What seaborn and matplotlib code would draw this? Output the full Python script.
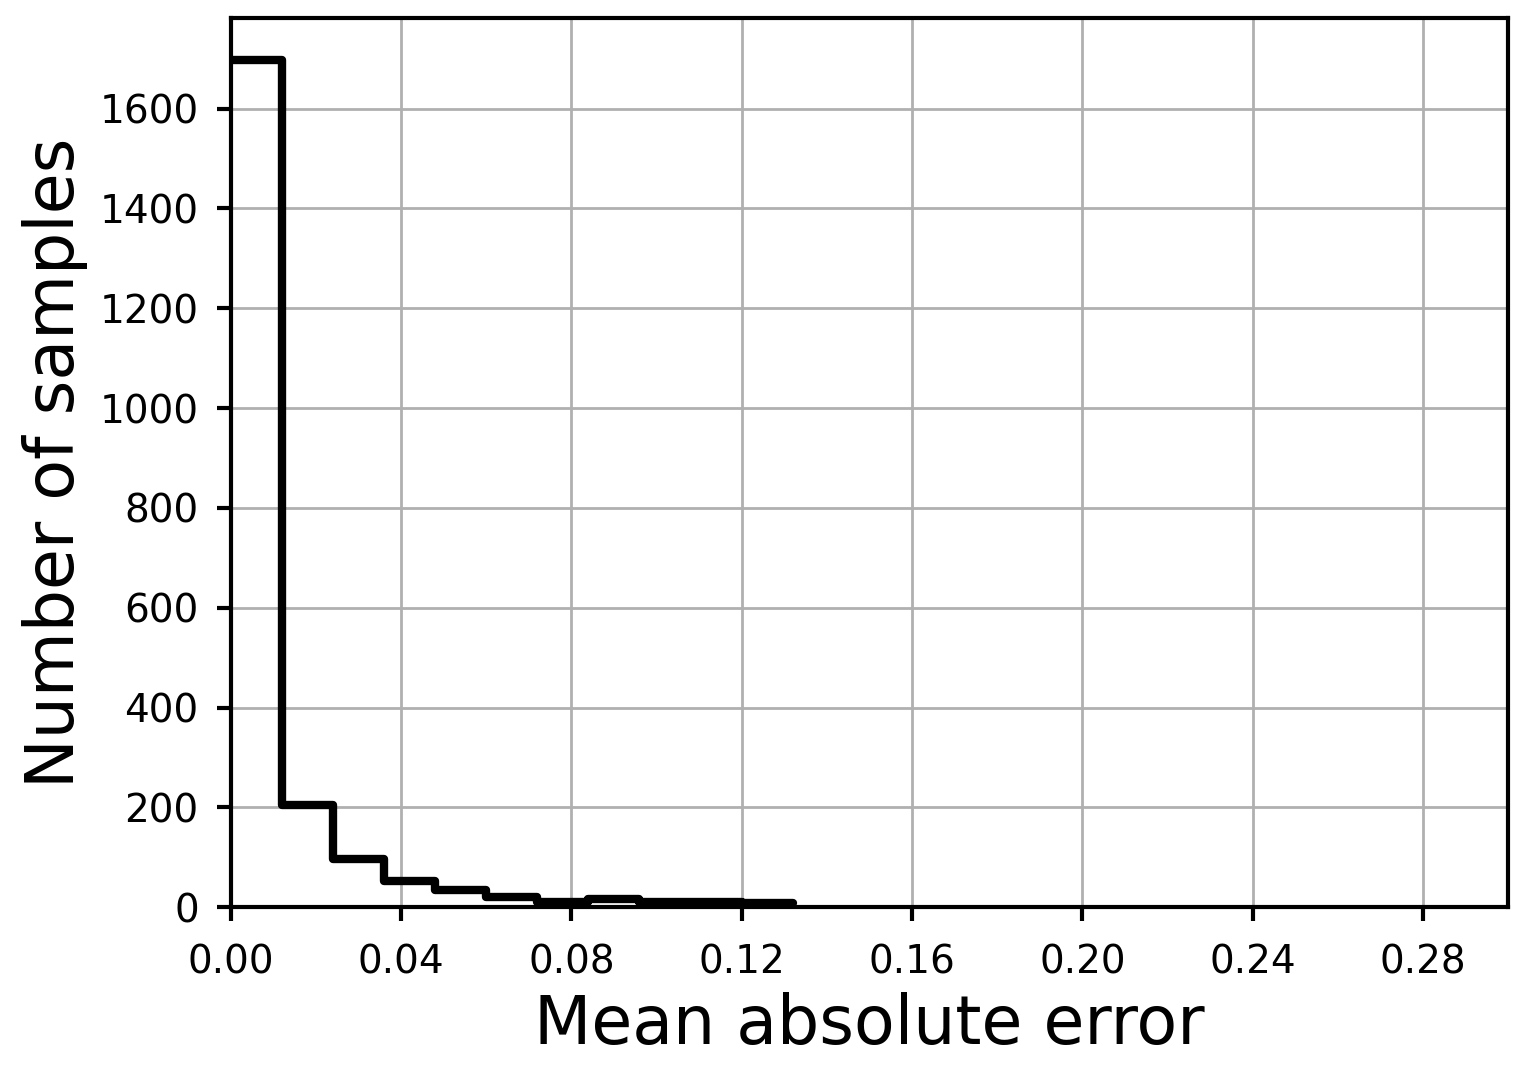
import numpy as np
import matplotlib
matplotlib.use("Agg")
import matplotlib.pyplot as plt
import seaborn as sns

# Histogram of mean absolute error (counts)
bin_edges = [0.000, 0.012, 0.024, 0.036, 0.048, 0.060, 0.072,
             0.084, 0.096, 0.108, 0.120, 0.132]
counts = [1697, 205, 96, 53, 35, 21, 10, 17, 10, 10, 9]
x_ticks = [0.00, 0.04, 0.08, 0.12, 0.16, 0.20, 0.24, 0.28]
y_ticks = [0, 200, 400, 600, 800, 1000, 1200, 1400, 1600]

sns.set_style("ticks")
plt.rcParams['font.family'] = ['DejaVu Sans']
plt.rcParams['text.color'] = 'black'
plt.rcParams['axes.labelcolor'] = 'black'
plt.rcParams['xtick.color'] = 'black'
plt.rcParams['ytick.color'] = 'black'

bin_centers = [(a + b) / 2 for a, b in zip(bin_edges[:-1], bin_edges[1:])]

fig = plt.figure(figsize=(7.64, 5.33), dpi=200)
ax = fig.add_subplot(111)
fig.subplots_adjust(left=0.151, right=0.987, top=0.983, bottom=0.149)

ax.grid(True, color='#b0b0b0', linewidth=1.0)
ax.set_axisbelow(True)

sns.histplot(x=bin_centers, weights=counts, bins=bin_edges, element='step',
             fill=False, color='black', linewidth=3, ax=ax)

ax.set_xlim(0, 0.3)
ax.set_xticks(x_ticks)
ax.set_xticklabels([f"{t:.2f}" for t in x_ticks])
ax.set_yticks(y_ticks)
ax.tick_params(labelsize=14, width=1.5, length=5, colors='black')
ax.tick_params(axis='x', pad=8)
ax.tick_params(axis='y', pad=6.5)
for s in ax.spines.values():
    s.set_linewidth(1.5)
    s.set_color('black')

ax.set_xlabel('Mean absolute error', fontsize=24, color='black')
ax.set_ylabel('Number of samples', fontsize=24, color='black')

fig.savefig('out.png', dpi=200)
